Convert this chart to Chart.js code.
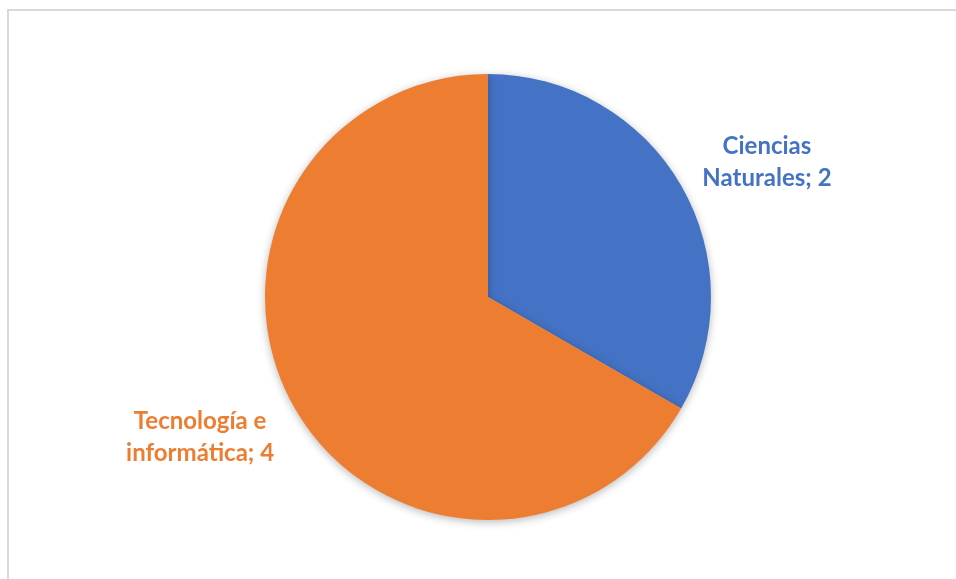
<!DOCTYPE html>
<html>
<head>
<meta charset="utf-8">
<script src="https://cdn.jsdelivr.net/npm/chart.js@4/dist/chart.umd.min.js"></script>
<style>
  html, body { margin: 0; padding: 0; background: #fff; }
  #wrap { position: relative; width: 956px; height: 579px; }
  #frame { position: absolute; left: 7px; top: 9px; right: -10px; bottom: -10px;
           border-left: 2px solid #d9d9d9; border-top: 2px solid #d9d9d9; }
  canvas { position: absolute; left: 0; top: 0; }
</style>
</head>
<body>
<div id="wrap">
  <div id="frame"></div>
  <canvas id="pieChart" width="956" height="579"></canvas>
</div>
<script>
const labels = ['Ciencias Naturales', 'Tecnología e informática'];
const values = [2, 4];
const colors = ['#4472C4', '#ED7D31'];
// label text lines and their offset from the pie centre (in radii)
const labelLines = [['Ciencias', 'Naturales; 2'], ['Tecnología e', 'informática; 4']];
const labelOffsets = [[1.251, -0.605], [-1.291, 0.630]];

const shadowPlugin = {
  id: 'pieShadow',
  beforeDatasetDraw(chart) {
    const c = chart.ctx;
    c.save();
    c.shadowColor = 'rgba(0,0,0,0.28)';
    c.shadowBlur = 9;
    c.shadowOffsetX = 0;
    c.shadowOffsetY = 2;
  },
  afterDatasetDraw(chart) {
    chart.ctx.restore();
  }
};

const labelPlugin = {
  id: 'sliceLabels',
  afterDraw(chart) {
    const c = chart.ctx;
    const arcs = chart.getDatasetMeta(0).data;
    c.save();
    c.font = 'bold 24px Lato';
    c.textAlign = 'center';
    c.textBaseline = 'middle';
    arcs.forEach((arc, i) => {
      const r = arc.outerRadius;
      const x = arc.x + labelOffsets[i][0] * r;
      const y = arc.y + labelOffsets[i][1] * r;
      c.fillStyle = colors[i];
      labelLines[i].forEach((line, j) => {
        c.fillText(line, x, y + (j - 0.5) * 32);
      });
    });
    c.restore();
  }
};

new Chart(document.getElementById('pieChart'), {
  type: 'pie',
  data: {
    labels: labels,
    datasets: [{ data: values, backgroundColor: colors, borderWidth: 0 }]
  },
  options: {
    responsive: false,
    animation: false,
    layout: { padding: { left: 265, right: 245, top: 74, bottom: 59 } },
    plugins: { legend: { display: false }, tooltip: { enabled: false } }
  },
  plugins: [shadowPlugin, labelPlugin]
});
</script>
</body>
</html>
